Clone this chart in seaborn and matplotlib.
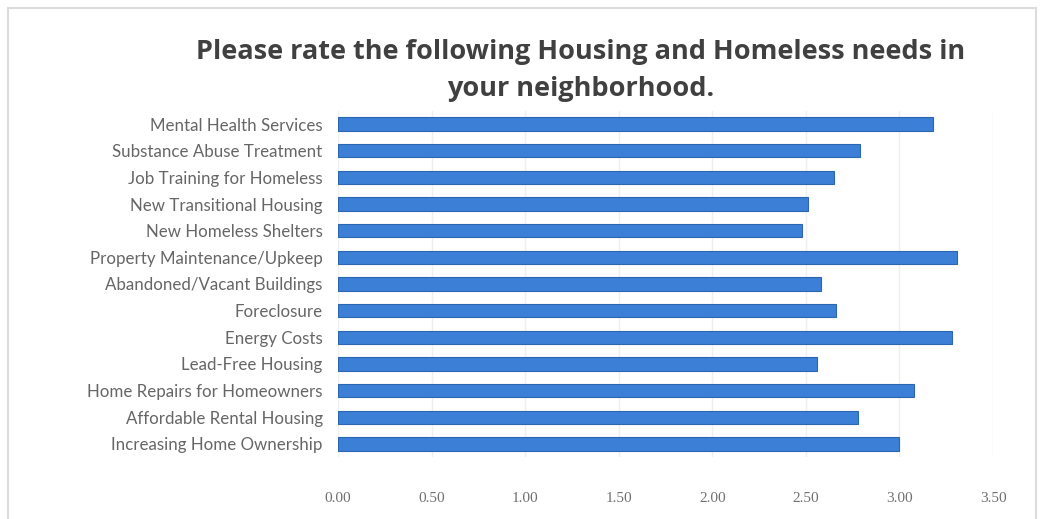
import matplotlib
matplotlib.use("Agg")
import matplotlib.pyplot as plt
import seaborn as sns
import pandas as pd

# Survey categories (top to bottom) and their average ratings
categories = [
    "Mental Health Services",
    "Substance Abuse Treatment",
    "Job Training for Homeless",
    "New Transitional Housing",
    "New Homeless Shelters",
    "Property Maintenance/Upkeep",
    "Abandoned/Vacant Buildings",
    "Foreclosure",
    "Energy Costs",
    "Lead-Free Housing",
    "Home Repairs for Homeowners",
    "Affordable Rental Housing",
    "Increasing Home Ownership",
]
ratings = [3.18, 2.79, 2.65, 2.51, 2.48, 3.31, 2.58, 2.66, 3.28, 2.56, 3.08, 2.78, 3.00]
x_ticks = [0.0, 0.5, 1.0, 1.5, 2.0, 2.5, 3.0, 3.5]
x_tick_labels = ["0.00", "0.50", "1.00", "1.50", "2.00", "2.50", "3.00", "3.50"]

df = pd.DataFrame({"category": categories, "rating": ratings})

sns.set_theme(style="white")
plt.rcParams["font.family"] = ["Lato", "DejaVu Sans"]

fig = plt.figure(figsize=(10.42, 5.19), dpi=100)
ax = fig.add_axes([0.3244, 0.1189, 0.6286, 0.6678])

sns.barplot(data=df, x="rating", y="category", order=categories,
            color="#3b7fd6", saturation=1, width=0.5,
            edgecolor="#2d66b0", linewidth=0.8, ax=ax)

ax.set_xlim(0, 3.5)
ax.set_ylim(len(categories) - 0.5, -0.5)
ax.set_xticks(x_ticks)
ax.set_xticklabels(x_tick_labels, family="Liberation Serif", fontsize=11, color="#707070")
ax.tick_params(axis="x", length=0, pad=25)
ax.tick_params(axis="y", length=0, pad=11, labelsize=12.2, labelcolor="#666666")
ax.set_xlabel("")
ax.set_ylabel("")

# faint vertical grid lines
ax.grid(axis="x", color="#efefef", linewidth=1)
ax.set_axisbelow(True)
for s in ax.spines.values():
    s.set_visible(False)

title_kw = dict(ha="center", va="center", fontsize=19.5, fontweight="bold",
                color="#404040", family="Open Sans")
fig.text(0.557, 0.900, "Please rate the following Housing and Homeless needs in", **title_kw)
fig.text(0.557, 0.828, "your neighborhood.", **title_kw)

# chart frame
frame = plt.Rectangle((0.008, -0.01), 0.986, 0.995, transform=fig.transFigure,
                      fill=False, edgecolor="#dcdcdc", linewidth=1.5)
fig.patches.append(frame)

fig.savefig("out.png", dpi=100)
